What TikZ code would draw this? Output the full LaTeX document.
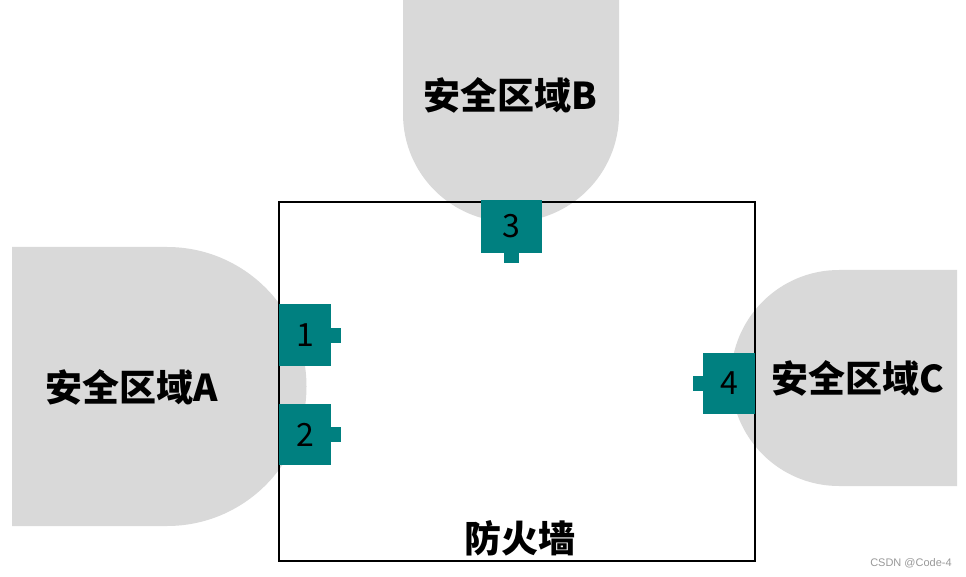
\documentclass[tikz,border=0pt]{standalone}
\usepackage{fontspec}
\newfontfamily\cjk{Noto Sans CJK SC}
\newfontfamily\marksans{Liberation Sans}
\definecolor{zonegray}{HTML}{D9D9D9}
\definecolor{teal}{HTML}{008080}
\tikzset{
  zone/.style = {fill = zonegray},
  port/.style = {fill = teal, inner sep = 0pt, font = \cjk\fontsize{32}{32}\selectfont},
  tab/.style = {fill = teal},
  zonelabel/.style = {font = \cjk\bfseries\fontsize{37}{37}\selectfont}
}
\begin{document}
\begin{tikzpicture}[x = 1pt, y = -1pt]
\useasboundingbox [fill = white] (0,0) rectangle (966,577);
% security zones
\fill [zone] (12,247) -- (167,247) arc [start angle = -90, end angle = 90, radius = 139.5] -- (12,526) -- cycle;
\fill [zone] (403,0) -- (403,114) arc [start angle = 180, end angle = 0, radius = 108] -- (619,0) -- cycle;
\fill [zone] (957,270) -- (839,270) arc [start angle = -90, end angle = -270, radius = 108] -- (957,486) -- cycle;
\node [zonelabel] (zoneA) at (132,387) {安全区域A};
\node [zonelabel] (zoneB) at (510,95) {安全区域B};
\node [zonelabel] (zoneC) at (858,378) {安全区域C};
% firewall
\draw [line width = 1.8pt] (279,202) rectangle (755,561);
\node [zonelabel] (fw) at (520,538) {防火墙};
% ports
\node [port, minimum width = 52, minimum height = 62] (p1) at (305,335) {1};
\node [port, minimum width = 52, minimum height = 61] (p2) at (305,434.5) {2};
\node [port, minimum width = 61, minimum height = 53] (p3) at (511,226.5) {3};
\node [port, minimum width = 52, minimum height = 61] (p4) at (729,383.5) {4};
\fill [tab] (p1.east) ++(0,-7.5) rectangle ++(10,15);
\fill [tab] (p2.east) ++(0,-7.5) rectangle ++(10,15);
\fill [tab] (p3.south) ++(-7.5,0) rectangle ++(15,10);
\fill [tab] (p4.west) ++(0,-7.5) rectangle ++(-10,15);
\node [font = \marksans\fontsize{11}{11}\selectfont, text = gray!80] (mark) at (911,563) {CSDN @Code-4};
\end{tikzpicture}
\end{document}
